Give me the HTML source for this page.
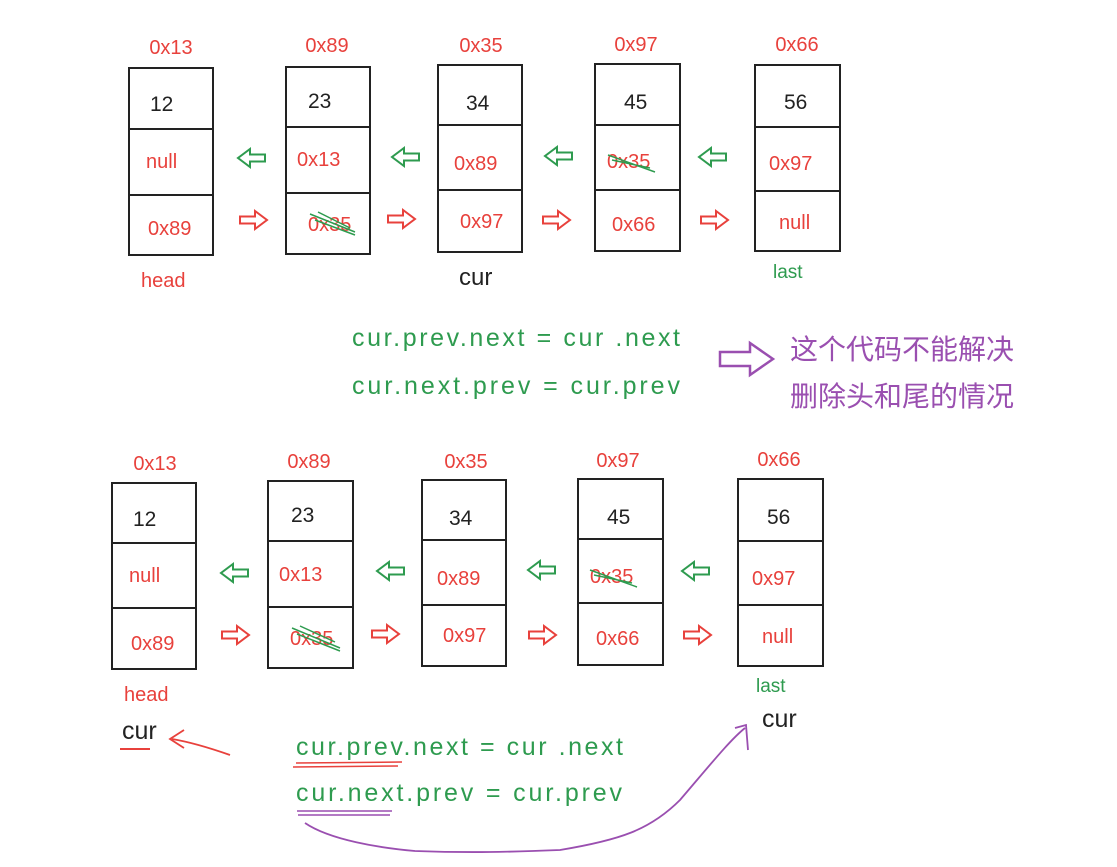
<!DOCTYPE html>
<html><head><meta charset="utf-8"><style>
html,body{margin:0;padding:0;background:#fff;}
svg{display:block;}
text{font-family:"Liberation Sans","Noto Sans CJK SC",sans-serif;}
.r{fill:#e8413c;font-size:20px;}
.k{fill:#222;font-size:21px;}
.g{fill:#2e9b4f;font-size:25px;}
.p{fill:#9a4fb0;font-size:28px;font-family:"Liberation Sans","Noto Sans CJK SC",sans-serif;}
.box{fill:none;stroke:#222;stroke-width:2;}
.ra{fill:none;stroke:#e8413c;stroke-width:2;}
.ga{fill:none;stroke:#2e9b4f;stroke-width:2;}
</style></head><body>
<svg width="1117" height="867" viewBox="0 0 1117 867">
<defs>
<path id="rA" d="M0,-3.5 L15,-3.5 L15,-9 L27,0 L15,9 L15,3.5 L0,3.5 Z"/>
<path id="lA" d="M27,-3.5 L12,-3.5 L12,-9 L0,0 L12,9 L12,3.5 L27,3.5 Z"/>
</defs>

<g text-anchor="middle">
<text class="r" x="171" y="54">0x13</text>
<text class="r" x="327" y="52">0x89</text>
<text class="r" x="481" y="52">0x35</text>
<text class="r" x="636" y="51">0x97</text>
<text class="r" x="797" y="51">0x66</text>
</g>
<rect class="box" x="129" y="68" width="84" height="187"/><line class="box" x1="129" y1="129" x2="213" y2="129"/><line class="box" x1="129" y1="195" x2="213" y2="195"/>
<rect class="box" x="286" y="67" width="84" height="187"/><line class="box" x1="286" y1="127" x2="370" y2="127"/><line class="box" x1="286" y1="193" x2="370" y2="193"/>
<rect class="box" x="438" y="65" width="84" height="187"/><line class="box" x1="438" y1="125" x2="522" y2="125"/><line class="box" x1="438" y1="190" x2="522" y2="190"/>
<rect class="box" x="595" y="64" width="85" height="187"/><line class="box" x1="595" y1="125" x2="680" y2="125"/><line class="box" x1="595" y1="190" x2="680" y2="190"/>
<rect class="box" x="755" y="65" width="85" height="186"/><line class="box" x1="755" y1="127" x2="840" y2="127"/><line class="box" x1="755" y1="191" x2="840" y2="191"/>
<text class="k" x="150" y="111">12</text>
<text class="k" x="308" y="108">23</text>
<text class="k" x="466" y="110">34</text>
<text class="k" x="624" y="109">45</text>
<text class="k" x="784" y="109">56</text>
<text class="r" x="146" y="168">null</text>
<text class="r" x="297" y="166">0x13</text>
<text class="r" x="454" y="170">0x89</text>
<text class="r" x="607" y="168">0x35</text>
<text class="r" x="769" y="170">0x97</text>
<text class="r" x="148" y="235">0x89</text>
<text class="r" x="308" y="231">0x35</text>
<text class="r" x="460" y="228">0x97</text>
<text class="r" x="612" y="231">0x66</text>
<text class="r" x="779" y="229">null</text>
<path d="M310,214 L355,232 M315,220 L355,235 M318,212 L350,228" stroke="#2e9b4f" stroke-width="1.5" fill="none"/>
<path d="M608,155 L655,172 M612,160 L650,168" stroke="#2e9b4f" stroke-width="1.5" fill="none"/>
<use href="#lA" class="ga" x="238" y="158"/>
<use href="#lA" class="ga" x="392" y="157"/>
<use href="#lA" class="ga" x="545" y="156"/>
<use href="#lA" class="ga" x="699" y="157"/>
<use href="#rA" class="ra" x="240" y="220"/>
<use href="#rA" class="ra" x="388" y="219"/>
<use href="#rA" class="ra" x="543" y="220"/>
<use href="#rA" class="ra" x="701" y="220"/>
<text class="r" x="141" y="287">head</text>
<text class="k" x="459" y="285" style="font-size:24px">cur</text>
<text x="773" y="278" style="fill:#2e9b4f;font-size:19px">last</text>

<text class="g" x="352" y="346" textLength="328" lengthAdjust="spacing">cur.prev.next =  cur .next</text>
<text class="g" x="352" y="394" textLength="328" lengthAdjust="spacing">cur.next.prev =  cur.prev</text>
<path d="M720,352 L750,352 L750,343 L773,359 L750,375 L750,366 L720,366 Z" fill="none" stroke="#9a4fb0" stroke-width="2.5"/>
<text class="p" x="790" y="359">这个代码不能解决</text>
<text class="p" x="790" y="406">删除头和尾的情况</text>

<g text-anchor="middle">
<text class="r" x="155" y="470">0x13</text>
<text class="r" x="309" y="468">0x89</text>
<text class="r" x="466" y="468">0x35</text>
<text class="r" x="618" y="467">0x97</text>
<text class="r" x="779" y="466">0x66</text>
</g>
<rect class="box" x="112" y="483" width="84" height="186"/><line class="box" x1="112" y1="543" x2="196" y2="543"/><line class="box" x1="112" y1="608" x2="196" y2="608"/>
<rect class="box" x="268" y="481" width="85" height="187"/><line class="box" x1="268" y1="541" x2="353" y2="541"/><line class="box" x1="268" y1="607" x2="353" y2="607"/>
<rect class="box" x="422" y="480" width="84" height="186"/><line class="box" x1="422" y1="540" x2="506" y2="540"/><line class="box" x1="422" y1="605" x2="506" y2="605"/>
<rect class="box" x="578" y="479" width="85" height="186"/><line class="box" x1="578" y1="539" x2="663" y2="539"/><line class="box" x1="578" y1="603" x2="663" y2="603"/>
<rect class="box" x="738" y="479" width="85" height="187"/><line class="box" x1="738" y1="541" x2="823" y2="541"/><line class="box" x1="738" y1="605" x2="823" y2="605"/>
<text class="k" x="133" y="526">12</text>
<text class="k" x="291" y="522">23</text>
<text class="k" x="449" y="525">34</text>
<text class="k" x="607" y="524">45</text>
<text class="k" x="767" y="524">56</text>
<text class="r" x="129" y="582">null</text>
<text class="r" x="279" y="581">0x13</text>
<text class="r" x="437" y="585">0x89</text>
<text class="r" x="590" y="583">0x35</text>
<text class="r" x="752" y="585">0x97</text>
<text class="r" x="131" y="650">0x89</text>
<text class="r" x="290" y="645">0x35</text>
<text class="r" x="443" y="642">0x97</text>
<text class="r" x="596" y="645">0x66</text>
<text class="r" x="762" y="643">null</text>
<path d="M292,628 L340,648 M297,634 L340,651 M300,626 L335,642" stroke="#2e9b4f" stroke-width="1.5" fill="none"/>
<path d="M590,570 L637,587 M594,575 L632,583" stroke="#2e9b4f" stroke-width="1.5" fill="none"/>
<use href="#lA" class="ga" x="221" y="573"/>
<use href="#lA" class="ga" x="377" y="571"/>
<use href="#lA" class="ga" x="528" y="570"/>
<use href="#lA" class="ga" x="682" y="571"/>
<use href="#rA" class="ra" x="222" y="635"/>
<use href="#rA" class="ra" x="372" y="634"/>
<use href="#rA" class="ra" x="529" y="635"/>
<use href="#rA" class="ra" x="684" y="635"/>
<text class="r" x="124" y="701">head</text>
<text x="756" y="692" style="fill:#2e9b4f;font-size:19px">last</text>
<text class="k" x="122" y="739" style="font-size:25px">cur</text>
<line x1="120" y1="749" x2="150" y2="749" stroke="#e8413c" stroke-width="2"/>
<text class="k" x="762" y="727" style="font-size:25px">cur</text>

<text class="g" x="296" y="755" textLength="327" lengthAdjust="spacing">cur.prev.next =  cur .next</text>
<text class="g" x="296" y="801" textLength="326" lengthAdjust="spacing">cur.next.prev =  cur.prev</text>
<path d="M296,763 L402,762 M293,767 L398,766" stroke="#e8413c" stroke-width="1.5" fill="none"/>
<path d="M297,811 L392,811 M298,815 L390,815" stroke="#9a4fb0" stroke-width="1.5" fill="none"/>
<path d="M230,755 C210,748 190,742 172,739" stroke="#e8413c" stroke-width="1.8" fill="none"/>
<path d="M184,730 L170,739 L184,748" stroke="#e8413c" stroke-width="1.8" fill="none"/>
<path d="M305,823 C330,840 380,848 415,851 C470,853 510,852 560,850 C620,840 650,830 680,800 C710,765 730,740 745,728" stroke="#9a4fb0" stroke-width="1.8" fill="none"/>
<path d="M735,728 L746,725 L748,750" stroke="#9a4fb0" stroke-width="1.8" fill="none"/>
</svg>
</body></html>
